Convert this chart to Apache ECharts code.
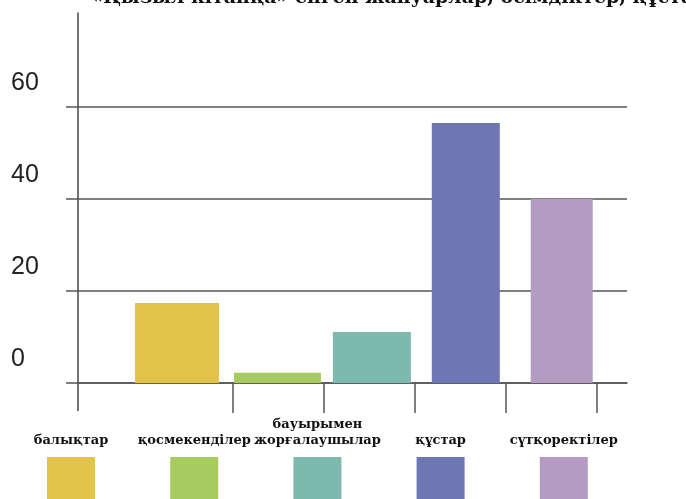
<!DOCTYPE html>
<html><head><meta charset="utf-8">
<script src="https://cdn.jsdelivr.net/npm/echarts@6/dist/echarts.min.js"></script>
<style>html,body{margin:0;padding:0;background:#fff}#c{width:686px;height:499px}</style>
</head><body><div id="c"></div>
<script>
// ---- data ----
const titleText = '«Қызыл кітапқа» енген жануарлар, өсімдіктер, құстар';
const categories = ['балықтар', 'қосмекенділер', 'бауырымен\nжорғалаушылар', 'құстар', 'сүтқоректілер'];
const values = [17.4, 2.2, 11.1, 56.5, 40];
const yTickValues = [0, 20, 40, 60];

// ---- styles / layout ----
const colors = ['#E2C44B', '#A8CB5F', '#7DB9AD', '#6E76B4', '#B49BC4'];
const barWidths = [84, 87, 78, 68, 62];
const lineColor = '#555';
const legendStart = 71, legendStep = 123.2;

const chart = echarts.init(document.getElementById('c'), null, { renderer: 'canvas' });

const series = categories.map((name, i) => ({
  name: name,
  type: 'bar',
  data: [[i, values[i]]],
  barWidth: barWidths[i],
  barGap: '-100%',
  itemStyle: { color: colors[i] },
  silent: true
}));

const graphic = [];
categories.forEach((name, i) => {
  const cx = legendStart + legendStep * i;
  graphic.push({
    type: 'text', x: cx, y: 449, silent: true,
    style: {
      text: name, textAlign: 'center', textVerticalAlign: 'bottom',
      font: 'bold 13px "DejaVu Serif"', fill: '#111', lineHeight: 16
    }
  });
  graphic.push({
    type: 'rect', silent: true,
    shape: { x: cx - 24, y: 457, width: 48, height: 50 },
    style: { fill: colors[i] }
  });
});

chart.setOption({
  animation: false,
  backgroundColor: '#fff',
  title: {
    text: titleText, left: 86, top: -16,
    textStyle: { fontFamily: 'DejaVu Serif', fontWeight: 'bold', fontSize: 19, color: '#111' }
  },
  grid: { left: 78, right: 59, top: 13, bottom: 88.4, containLabel: false, outerBoundsMode: 'none' },
  xAxis: {
    type: 'value', min: -0.89, max: 4.66,
    axisLine: { show: true, onZero: true, lineStyle: { color: lineColor, width: 1.5 } },
    axisTick: {
      show: true, inside: false, length: 30,
      customValues: categories.map((_, i) => 0.67 + i * 0.92),
      lineStyle: { color: lineColor, width: 1.5 }
    },
    axisLabel: { show: false },
    splitLine: { show: false }
  },
  yAxis: {
    type: 'value', min: -6, max: 80.4,
    axisLine: { show: true, onZero: false, lineStyle: { color: '#444', width: 1.5 } },
    axisTick: {
      show: true, inside: false, length: 12,
      customValues: yTickValues,
      lineStyle: { color: lineColor, width: 1.5 }
    },
    axisLabel: {
      show: true, customValues: yTickValues,
      align: 'left', margin: 67, fontSize: 25, color: '#222',
      fontFamily: 'Liberation Sans', verticalAlign: 'bottom', lineHeight: 48
    },
    splitLine: { show: true, lineStyle: { color: lineColor, width: 1.5 } }
  },
  graphic: graphic,
  series: series
});
</script>
</body></html>
